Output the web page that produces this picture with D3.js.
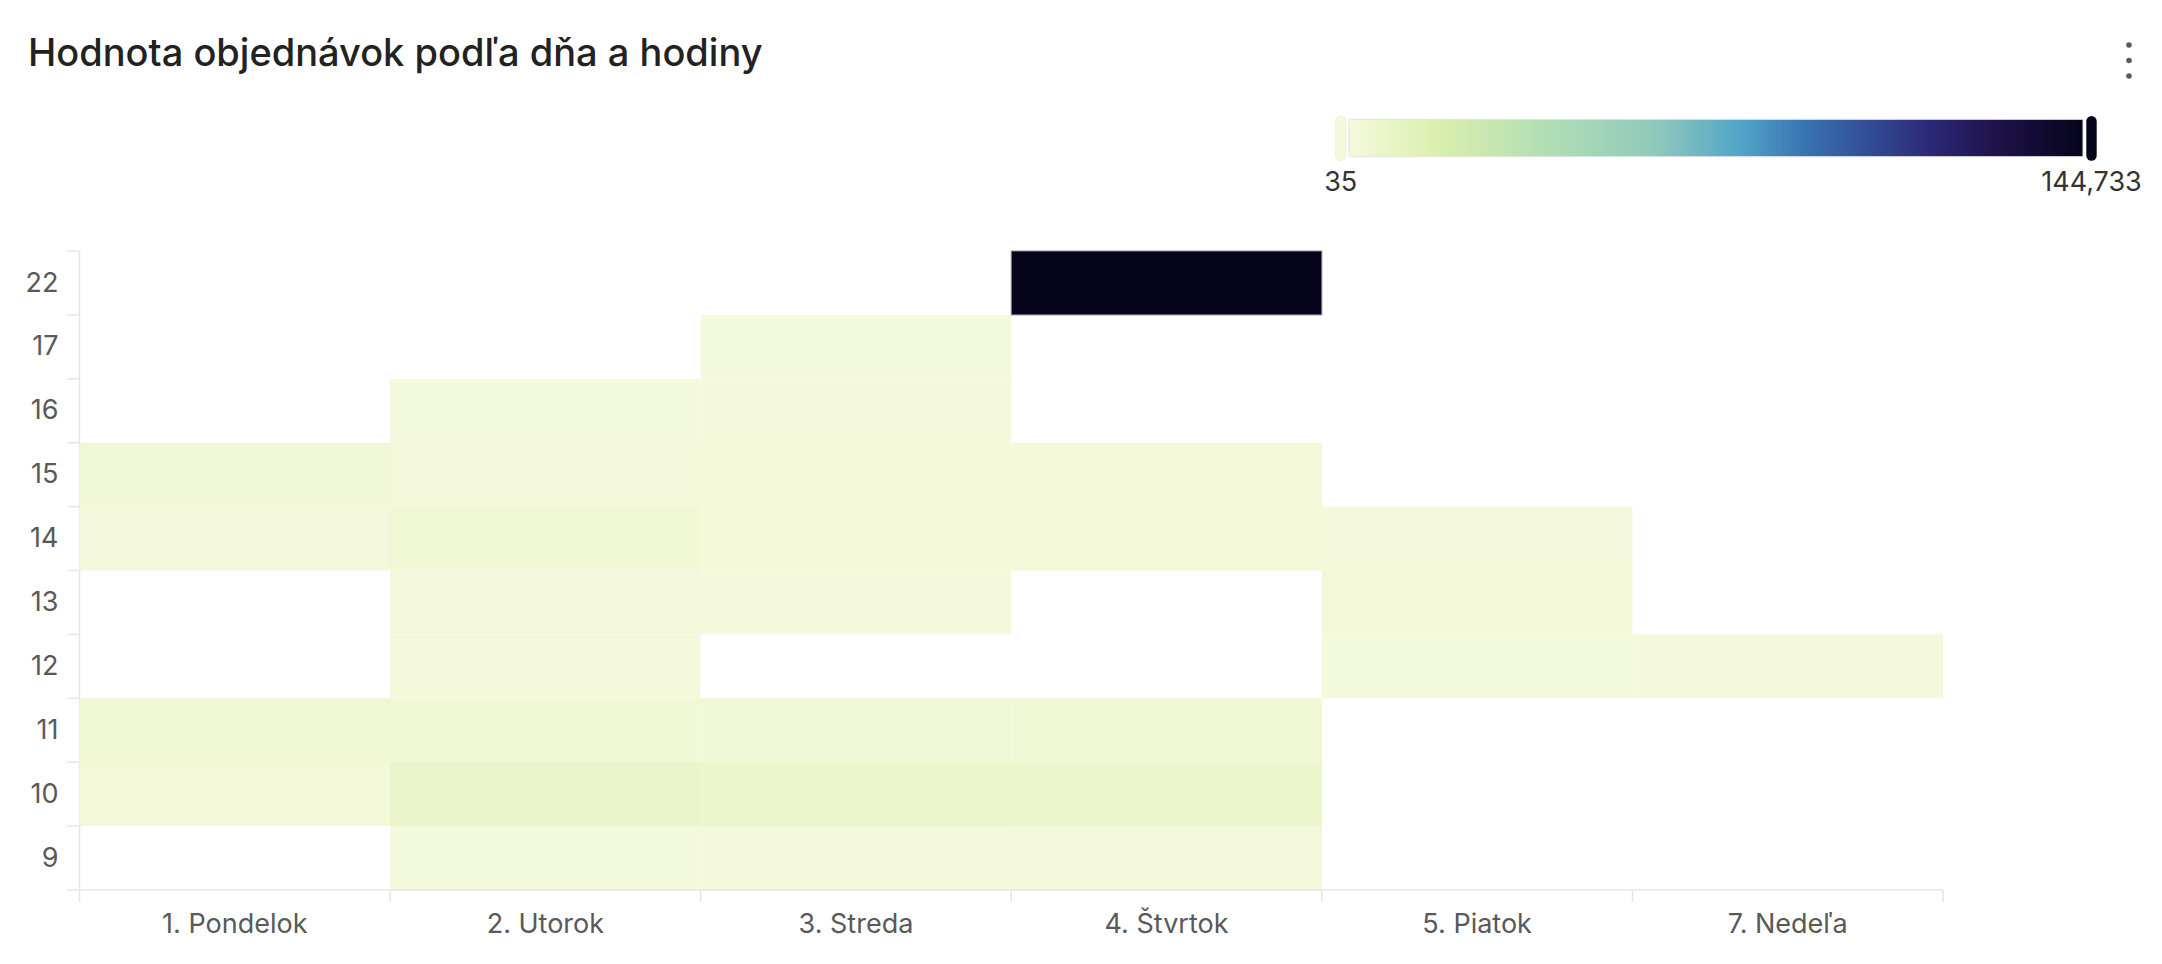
<!DOCTYPE html>
<html>
<head>
<meta charset="utf-8">
<script src="https://cdn.jsdelivr.net/npm/d3@7"></script>
<style>
  html, body { margin: 0; padding: 0; background: #fff; }
  svg { display: block; font-family: Inter, "Noto Sans", sans-serif; }
</style>
</head>
<body>
<svg id="chart" width="2162" height="964"></svg>
<script>
// ---- data ----
const title = "Hodnota objednávok podľa dňa a hodiny";
const days = ["1. Pondelok", "2. Utorok", "3. Streda", "4. Štvrtok", "5. Piatok", "7. Nedeľa"];
const hours = ["9", "10", "11", "12", "13", "14", "15", "16", "17", "22"];
// values per day, aligned with hours (null = no orders)
const pondelok = [null, 1500, 3500, null, null, 1100, 1800, null, null, null];
const utorok   = [600, 6200, 2600, 700, 1200, 3300, 1200, 500, null, null];
const streda   = [700, 5900, 2000, null, 700, 1000, 1000, 300, 400, null];
const stvrtok  = [1100, 6000, 2700, null, null, 1000, 1000, null, null, 144733];
const piatok   = [null, null, null, 600, 1000, 300, null, null, null, null];
const nedela   = [null, null, null, 35, null, null, null, null, null, null];
const seriesByDay = [pondelok, utorok, streda, stvrtok, piatok, nedela];
const legendMin = 35, legendMax = 144733;
const colorStops = ["#f4f9dc", "#dbefae", "#b1deb5", "#8fc8bc", "#52a6c8", "#3a74b3", "#2c2c7c", "#221450", "#05041a"];
const stopPositions = [0, 0.12, 0.27, 0.42, 0.53, 0.62, 0.78, 0.87, 1];

// ---- build cells ----
const cells = [];
seriesByDay.forEach((vals, di) => {
  vals.forEach((v, hi) => {
    if (v !== null) cells.push({ day: days[di], hour: hours[hi], value: v });
  });
});

const svg = d3.select("#chart");
const W = 2162, H = 964;
const margin = { left: 79.5, right: W - 1943, top: 251, bottom: H - 890 };

const x = d3.scaleBand().domain(days).range([margin.left, W - margin.right]).padding(0);
const y = d3.scaleBand().domain(hours).range([H - margin.bottom, margin.top]).padding(0);

const colorInterp = d3.scaleLinear()
  .domain(stopPositions)
  .range(colorStops)
  .interpolate(d3.interpolateRgb);
const color = v => colorInterp((v - legendMin) / (legendMax - legendMin));

// ---- title ----
svg.append("text")
  .attr("x", 28).attr("y", 66)
  .attr("font-size", 38).attr("font-weight", 500)
  .attr("fill", "#222")
  .text(title);

// menu dots
svg.append("g").selectAll("circle").data([45, 60.5, 76]).join("circle")
  .attr("cx", 2129).attr("cy", d => d).attr("r", 2.8).attr("fill", "#5a5a5a");

// ---- legend ----
const legX0 = 1349, legX1 = 2083, legY = 119.3, legH = 37.4;
const defs = svg.append("defs");
const grad = defs.append("linearGradient").attr("id", "lg").attr("x1", "0%").attr("x2", "100%");
colorStops.forEach((c, i) => grad.append("stop").attr("offset", stopPositions[i] * 100 + "%").attr("stop-color", c));
svg.append("rect")
  .attr("x", legX0).attr("y", legY).attr("width", legX1 - legX0).attr("height", legH)
  .attr("fill", "url(#lg)").attr("stroke", "#e4e4e4").attr("stroke-width", 1);
const legScale = d3.scaleLinear().domain([legendMin, legendMax]).range([1340.7, 2091.5]);
const handles = [legendMin, legendMax];
svg.append("g").selectAll("rect").data(handles).join("rect")
  .attr("x", d => legScale(d) - 5.2).attr("y", 116).attr("width", 10.4).attr("height", 44.7)
  .attr("rx", 5.2).attr("fill", d => color(d))
  .attr("stroke", d => d === legendMin ? "#eef3d6" : "none");
svg.append("g").selectAll("text").data(handles).join("text")
  .attr("x", d => legScale(d)).attr("y", 190.7)
  .attr("text-anchor", "middle").attr("font-size", 27).attr("fill", "#333")
  .text(d => d3.format(",")(d));

// ---- axes ----
const axisColor = "#e6e6e6";
const labelColor = "#595959";

// y axis line
svg.append("line")
  .attr("x1", margin.left).attr("x2", margin.left)
  .attr("y1", margin.top).attr("y2", H - margin.bottom)
  .attr("stroke", axisColor).attr("stroke-width", 1.5);
// y tick marks at band boundaries
const yBounds = hours.map(h => y(h)).concat([y(hours[0]) + y.bandwidth()]);
svg.append("g").selectAll("line").data(yBounds).join("line")
  .attr("x1", 67).attr("x2", margin.left)
  .attr("y1", d => d).attr("y2", d => d)
  .attr("stroke", axisColor).attr("stroke-width", 1.5);
// y labels via d3 axis
const yAxis = svg.append("g")
  .attr("transform", `translate(${margin.left},0)`)
  .call(d3.axisLeft(y).tickSize(0).tickPadding(21));
yAxis.select(".domain").remove();
yAxis.selectAll("text").attr("font-size", 27).attr("fill", labelColor).attr("font-family", "Inter, 'Noto Sans', sans-serif");

// ---- cells ----
svg.append("g").selectAll("rect").data(cells).join("rect")
  .attr("x", d => x(d.day))
  .attr("y", d => y(d.hour))
  .attr("width", x.bandwidth())
  .attr("height", y.bandwidth())
  .attr("fill", d => color(d.value))
  .attr("stroke", d => d.value > legendMax / 2 ? "#8a8a99" : "none")
  .attr("stroke-width", 1);

// x axis line
svg.append("line")
  .attr("x1", margin.left).attr("x2", W - margin.right)
  .attr("y1", H - margin.bottom).attr("y2", H - margin.bottom)
  .attr("stroke", axisColor).attr("stroke-width", 1.5);
const xBounds = days.map(d => x(d)).concat([x(days[days.length - 1]) + x.bandwidth()]);
svg.append("g").selectAll("line").data(xBounds).join("line")
  .attr("x1", d => d).attr("x2", d => d)
  .attr("y1", H - margin.bottom).attr("y2", H - margin.bottom + 12)
  .attr("stroke", axisColor).attr("stroke-width", 1.5);
const xAxis = svg.append("g")
  .attr("transform", `translate(0,${H - margin.bottom})`)
  .call(d3.axisBottom(x).tickSize(0).tickPadding(24));
xAxis.select(".domain").remove();
xAxis.selectAll("text").attr("font-size", 27).attr("fill", labelColor).attr("font-family", "Inter, 'Noto Sans', sans-serif");
</script>
</body>
</html>
